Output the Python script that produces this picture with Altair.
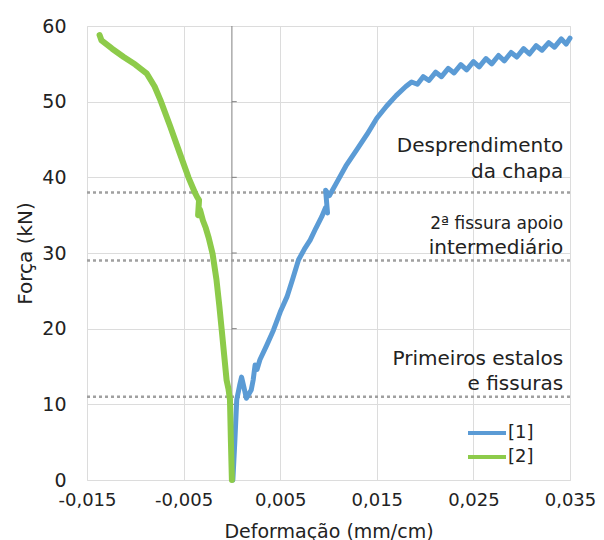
import altair as alt
import pandas as pd

# ---- data ----
blue_x = [0.0001, 0.0003, 0.0005, 0.0008, 0.0010, 0.0012, 0.0015, 0.0020, 0.0022, 0.0024,
          0.0026, 0.0029, 0.0036, 0.0043, 0.0050, 0.0057, 0.0063, 0.0069, 0.0075, 0.0081,
          0.0087, 0.0093, 0.0097, 0.0099, 0.0097, 0.0101, 0.0108, 0.0118, 0.0129, 0.0140,
          0.0150, 0.0160, 0.0170, 0.0180, 0.0186, 0.0192, 0.0198, 0.0204, 0.0211, 0.0217,
          0.0224, 0.0230, 0.0237, 0.0243, 0.0250, 0.0256, 0.0263, 0.0269, 0.0276, 0.0282,
          0.0289, 0.0295, 0.0302, 0.0308, 0.0315, 0.0321, 0.0328, 0.0334, 0.0341, 0.0346,
          0.0350]
blue_y = [0.0, 5.0, 10.6, 12.5, 13.6, 12.5, 10.8, 11.9, 13.2, 15.2,
          14.6, 15.9, 17.8, 19.8, 22.2, 24.2, 26.6, 29.1, 30.5, 31.7,
          33.3, 34.8, 36.0, 35.3, 38.3, 37.6, 39.2, 41.5, 43.6, 45.7,
          47.8, 49.4, 50.8, 52.0, 52.6, 52.3, 53.3, 52.8, 53.9, 53.3,
          54.4, 53.8, 54.9, 54.2, 55.3, 54.6, 55.7, 55.0, 56.1, 55.4,
          56.5, 55.9, 57.0, 56.3, 57.4, 56.8, 57.8, 57.2, 58.3, 57.6,
          58.4]

green_x = [0.0000, -0.0001, -0.0002, -0.00035, -0.00055, -0.0008, -0.00105, -0.0013, -0.0016,
           -0.0020, -0.0024, -0.0027, -0.0030, -0.0033, -0.0035, -0.0034, -0.0036, -0.0038,
           -0.0045, -0.0054, -0.0064, -0.0074, -0.0080, -0.0088, -0.0100, -0.0112, -0.0124,
           -0.0135, -0.0137]
green_y = [0.0, 5.0, 10.6, 12.0, 13.2, 16.5, 19.8, 23.0, 26.5,
           29.9, 32.0, 33.3, 34.3, 35.7, 35.0, 37.0, 37.4, 37.9,
           40.0, 43.2, 46.8, 50.2, 52.0, 53.7, 54.9, 55.9, 57.0,
           58.1, 58.8]

series_names = ["[1]", "[2]"]
series_colors = ["#5B9BD5", "#8DCB4A"]
series_widths = [5.0, 6.0]

x_ticks = [-0.015, -0.005, 0.005, 0.015, 0.025, 0.035]
y_ticks = [0, 10, 20, 30, 40, 50, 60]

event_levels = [38, 29, 11]
ann_lines = ["Desprendimento", "da chapa", "2ª fissura apoio", "intermediário",
             "Primeiros estalos", "e fissuras"]
ann_y = [43.3, 39.9, 33.2, 29.9, 15.2, 11.9]
ann_size = [20, 20, 17, 20, 20, 20]
ann_x = 0.0343

FONT = "DejaVu Sans"

df = pd.concat([
    pd.DataFrame({"x": blue_x, "y": blue_y, "s": series_names[0], "w": series_widths[0],
                  "i": range(len(blue_x))}),
    pd.DataFrame({"x": green_x, "y": green_y, "s": series_names[1], "w": series_widths[1],
                  "i": range(len(green_x))}),
])
ev = pd.DataFrame({"y": event_levels})
ann = pd.DataFrame({"t": ann_lines, "y": ann_y, "fs": ann_size, "x": ann_x})
zero = pd.DataFrame({"x": [0.0]})
ticks0 = pd.DataFrame({"y": [10, 20, 30, 40, 50], "x": 0.0, "x2": 0.0005})

xs = alt.Scale(domain=[-0.015, 0.035], nice=False, zero=False)
ys = alt.Scale(domain=[0, 60], nice=False)

x_axis = alt.Axis(values=x_ticks, title="Deformação (mm/cm)",
                  labelExpr="(datum.value < 0 ? '-' : '') + replace(format(abs(datum.value), '.3f'), '.', ',')",
                  labelFontSize=18, labelColor="#222", labelPadding=11, ticks=False, domain=False,
                  grid=True, gridColor="#dcdcdc", titleFontSize=19, titleFontWeight="normal",
                  titleColor="#222", titleY=57, titleBaseline="alphabetic", labelFont=FONT, titleFont=FONT,
                  labelFlush=False)
y_axis = alt.Axis(values=y_ticks, title="Força (kN)", labelFontSize=19, labelColor="#222",
                  labelPadding=21, ticks=False, domain=False, grid=True, gridColor="#dcdcdc",
                  titleFontSize=20, titleFontWeight="normal", titleColor="#222",
                  titleX=-62, titleY=227, titleAngle=-90, titleAlign="center", titleBaseline="middle",
                  labelFont=FONT, titleFont=FONT)

lines = alt.Chart(df).mark_line(strokeJoin="round", strokeCap="round").encode(
    x=alt.X("x:Q", scale=xs, axis=x_axis),
    y=alt.Y("y:Q", scale=ys, axis=y_axis),
    color=alt.Color("s:N", scale=alt.Scale(domain=series_names, range=series_colors),
                    legend=alt.Legend(title=None, orient="none", legendX=379, legendY=397,
                                      symbolType="stroke", symbolSize=1444, symbolStrokeWidth=4,
                                      labelFontSize=18, labelFont=FONT, labelColor="#222",
                                      labelOffset=0, rowPadding=4, padding=0, clipHeight=20)),
    size=alt.Size("w:Q", scale=None, legend=None),
    order="i:Q",
)

zero_rule = alt.Chart(zero).mark_rule(color="#808080", strokeWidth=1).encode(x=alt.X("x:Q", scale=xs))
zero_ticks = alt.Chart(ticks0).mark_rule(color="#808080", strokeWidth=1).encode(
    x=alt.X("x:Q", scale=xs), x2="x2:Q", y=alt.Y("y:Q", scale=ys))

ev_rules = alt.Chart(ev).mark_rule(color="#a0a0a0", strokeWidth=2.5, strokeDash=[3, 3]).encode(
    y=alt.Y("y:Q", scale=ys))

texts = alt.Chart(ann).mark_text(align="right", baseline="alphabetic", font=FONT, color="#222").encode(
    x=alt.X("x:Q", scale=xs), y=alt.Y("y:Q", scale=ys), text="t:N",
    size=alt.Size("fs:Q", scale=None, legend=None))

chart = alt.layer(zero_rule, zero_ticks, ev_rules, texts, lines).properties(
    width=483, height=454,
    autosize=alt.AutoSizeParams(type="none"),
    padding={"left": 79, "top": 18, "right": 26, "bottom": 60},
).configure_view(stroke="#8c8c8c", strokeWidth=1).configure(background="white")

chart.save("out.html", embed_options={"renderer": "svg", "actions": False})
